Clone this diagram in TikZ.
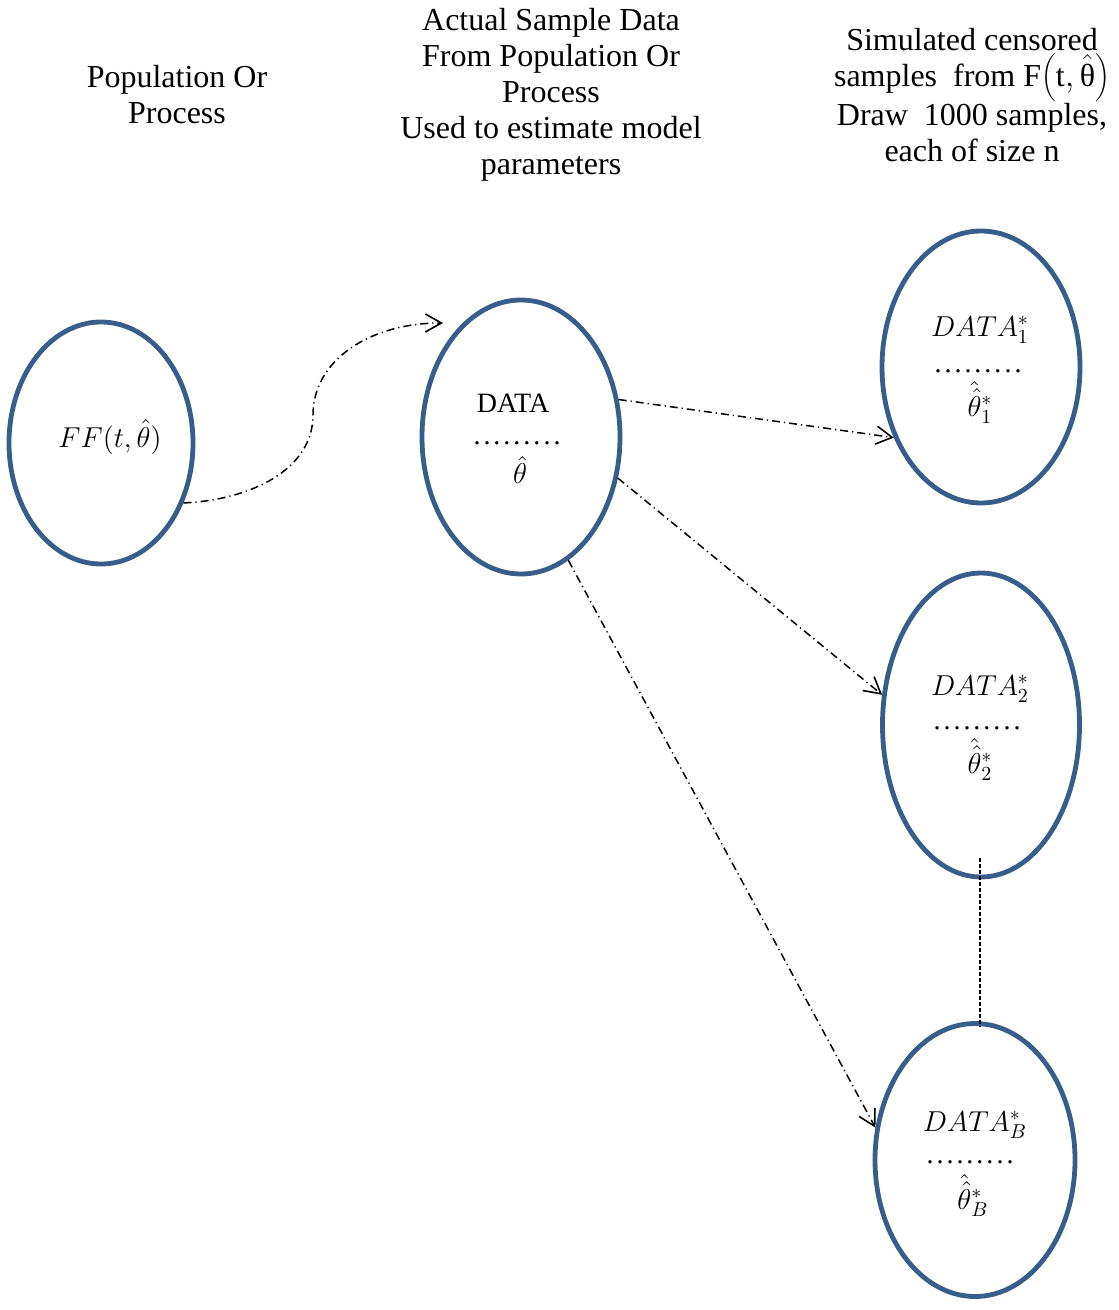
\documentclass[tikz,border=0pt]{standalone}
\usepackage{fontspec}
\setmainfont{Liberation Serif}
\usetikzlibrary{arrows.meta,shapes.geometric,calc}
\definecolor{ellblue}{RGB}{56,93,138}
\newcommand{\dotrow}{\hbox to 45pt{\cleaders\hbox to 5pt{\hss.\hss}\hfill}}
\newcommand{\hhth}[1]{\smash{\hat{\hat{\theta}}}_{#1}^{*}}
\begin{document}
\begin{tikzpicture}[x=0.5pt,y=-0.5pt,
  ell/.style={draw=ellblue, line width=2.4pt, ellipse, inner sep=0pt},
  head/.style={font=\fontsize{16}{18}\selectfont, align=center},
  lbl/.style={font=\fontsize{14}{16}\selectfont, inner sep=0pt},
  dd/.style={line width=0.75pt, dash pattern=on 4pt off 2pt on 0.6pt off 2pt,
    -{Straight Barb[length=8pt,width=9pt,line width=0.8pt]}},
  vdash/.style={line width=0.75pt, dash pattern=on 2pt off 1pt}
]
\useasboundingbox (0,0) rectangle (1118,1310);
% headers
\node[head] (h1) at (177,95) {Population Or\\Process};
\node[head] (h2) at (551,95) {Actual Sample Data\\From Population Or\\Process\\Used to estimate model\\parameters};
\node[head] (h3) at (972,95) {Simulated censored\\samples\ \ from F$\biggl(\hbox{t},\hat{\hbox{θ}}\biggr)$\\Draw\ \ 1000 samples,\\each of size n};
% ellipses
\node[ell, minimum width=92pt, minimum height=121pt] (FF) at (101,443) {};
\node[ell, minimum width=99pt, minimum height=137pt] (DATA) at (521,437) {};
\node[ell, minimum width=99pt, minimum height=136pt] (D1) at (981,367) {};
\node[ell, minimum width=98.5pt, minimum height=152pt] (D2) at (981,725) {};
\node[ell, minimum width=100pt, minimum height=136.5pt] (DB) at (975,1160) {};
% labels
\node[lbl, font=\fontsize{15}{17}\selectfont] (t0) at (110,437) {$FF(t,\hat{\theta})$};
\node[lbl] (ta1) at (513,403) {DATA};
\node[lbl] (ta2) at (517,443) {\dotrow};
\node[lbl] (ta3) at (520,470) {$\hat{\theta}$};
\node[lbl] (tb1) at (980,330) {$DATA_1^*$};
\node[lbl] (tb2) at (978,371) {\dotrow};
\node[lbl] (tb3) at (980,410) {$\hhth{1}$};
\node[lbl] (tc1) at (980,689) {$DATA_2^*$};
\node[lbl] (tc2) at (977,728) {\dotrow};
\node[lbl] (tc3) at (980,767) {$\hhth{2}$};
\node[lbl] (td1) at (975,1125) {$DATA_B^*$};
\node[lbl] (td2) at (970,1162) {\dotrow};
\node[lbl] (td3) at (973,1203) {$\hhth{B}$};
% connectors
\coordinate (A1) at (443,323);
\draw[dd] (FF.-36) .. controls (250,500) and (313,470) .. (313,415)
  .. controls (313,360) and (370,323) .. (A1);
\draw[dd] (DATA.21) -- (D1.219);
\draw[dd] (DATA.-23) -- (D2.163);
\draw[dd] (DATA.-69.5) -- (DB.162);
\coordinate (V1) at (980,858);
\coordinate (V2) at (980,1027);
\draw[vdash] (V1) -- (V2);
\end{tikzpicture}
\end{document}
